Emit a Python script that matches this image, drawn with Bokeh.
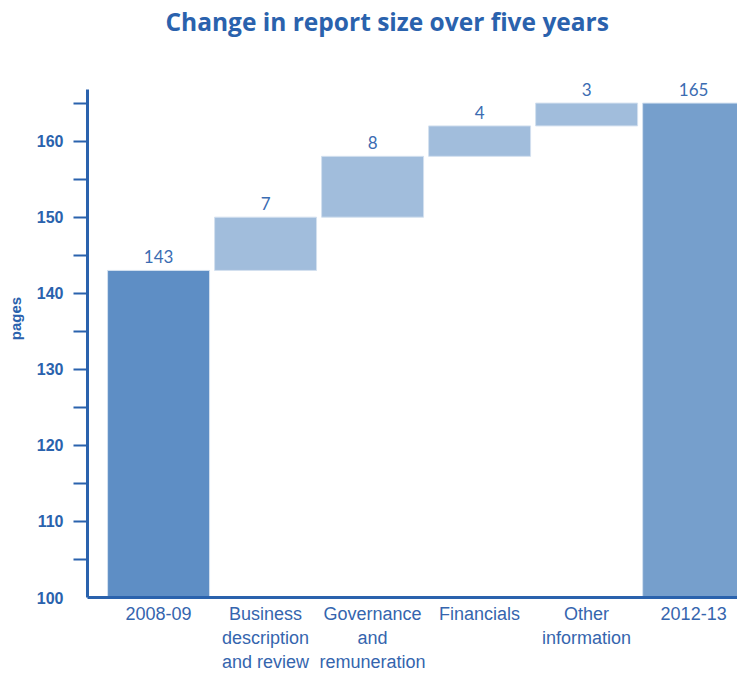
from bokeh.plotting import figure
from bokeh.models import Range1d, FixedTicker, ColumnDataSource
from bokeh.core.properties import value
from bokeh.embed import file_html
from bokeh.resources import INLINE

title = "Change in report size over five years"
categories = ["2008-09", "Business\ndescription\nand review", "Governance\nand\nremuneration",
              "Financials", "Other\ninformation", "2012-13"]
values = [143, 7, 8, 4, 3, 165]
kinds = ["total", "step", "step", "step", "step", "total"]
y_major = [100, 110, 120, 130, 140, 150, 160]
y_minor = [105, 110, 115, 120, 125, 130, 135, 140, 145, 150, 155, 160, 165]
y_axis_bounds = (100, 166.8)

BLUE = "#2a62ad"
colors = {"total0": "#5e8ec5", "total1": "#769fcc", "step": "#a1bddc"}

xs = list(range(len(categories)))
bottoms, tops, fills = [], [], []
run = 0
for i, (v, k) in enumerate(zip(values, kinds)):
    if k == "total":
        bottoms.append(100)
        tops.append(v)
        run = v
        fills.append(colors["total0"] if i == 0 else colors["total1"])
    else:
        bottoms.append(run)
        tops.append(run + v)
        run += v
        fills.append(colors["step"])

src = ColumnDataSource(dict(x=xs, bottom=bottoms, top=tops, fill=fills,
                            label=[str(v) for v in values]))

p = figure(width=737, height=675, output_backend="svg", toolbar_location=None,
           x_range=Range1d(-0.664, 5.41), y_range=Range1d(100, 173.36),
           min_border_left=87, min_border_right=0, min_border_bottom=78, min_border_top=38)
p.outline_line_color = None
p.xgrid.visible = False
p.ygrid.visible = False
p.background_fill_color = "white"

p.title.text = title
p.title.text_font = "Open Sans"
p.title.text_font_style = "bold"
p.title.text_font_size = "24.5px"
p.title.text_color = BLUE
p.title.align = "left"
p.title.offset = 78
p.title.standoff = 4

p.vbar(x="x", width=0.953, bottom="bottom", top="top", fill_color="fill",
       line_color="#d3e0ef", line_width=1, source=src)
p.text(x="x", y="top", text="label", source=src, text_align="center", text_baseline="bottom",
       y_offset=-7, text_font=value("Lato"), text_font_size="17px", text_color="#3b6cb2")

ya = p.yaxis[0]
ya.bounds = y_axis_bounds
ya.ticker = FixedTicker(ticks=y_major, minor_ticks=y_minor)
ya.axis_line_color = BLUE
ya.axis_line_width = 3
ya.major_tick_out = 0
ya.major_tick_in = 0
ya.minor_tick_out = 14
ya.minor_tick_in = 0
ya.minor_tick_line_color = BLUE
ya.minor_tick_line_width = 2
ya.major_label_standoff = 10
ya.major_label_text_font = "Liberation Sans"
ya.major_label_text_font_style = "bold"
ya.major_label_text_font_size = "16px"
ya.major_label_text_color = BLUE
ya.axis_label = "pages"
ya.axis_label_text_font = "Liberation Sans"
ya.axis_label_text_font_style = "bold"
ya.axis_label_text_font_size = "15px"
ya.axis_label_text_color = BLUE
ya.axis_label_standoff = 10

xa = p.xaxis[0]
xa.ticker = FixedTicker(ticks=xs)
xa.major_label_overrides = {i: c for i, c in zip(xs, categories)}
xa.axis_line_color = BLUE
xa.axis_line_width = 3
xa.major_tick_out = 0
xa.major_tick_in = 0
xa.minor_tick_out = 0
xa.minor_tick_in = 0
xa.major_label_standoff = 6
xa.major_label_text_font = "Liberation Sans"
xa.major_label_text_font_size = "18px"
xa.major_label_text_color = "#3565ae"
xa.major_label_text_line_height = 1.22

open("out.html", "w").write(file_html(p, INLINE))
